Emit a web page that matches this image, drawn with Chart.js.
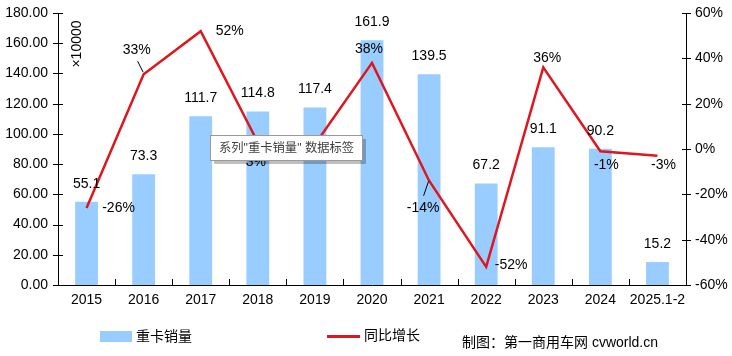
<!DOCTYPE html>
<html>
<head>
<meta charset="utf-8">
<script src="https://cdn.jsdelivr.net/npm/chart.js@4/dist/chart.umd.min.js"></script>
<style>
html,body{margin:0;padding:0;background:#fff;}
#wrap{position:relative;width:732px;height:356px;}
</style>
</head>
<body>
<div id="wrap"><canvas id="c" width="732" height="356"></canvas></div>
<script>
const categories = ['2015','2016','2017','2018','2019','2020','2021','2022','2023','2024','2025.1-2'];
const salesValues = [55.1, 73.3, 111.7, 114.8, 117.4, 161.9, 139.5, 67.2, 91.1, 90.2, 15.2];
const growthValues = [-26, 33, 52, 3, 2, 38, -14, -52, 36, -1, -3];
const leftTicks = [0, 20, 40, 60, 80, 100, 120, 140, 160, 180];
const rightTicks = [-60, -40, -20, 0, 20, 40, 60];
const seriesNames = ['重卡销量', '同比增长'];
const unitLabel = '×10000';
const footerText = '制图：第一商用车网 cvworld.cn';
const tooltipText = '系列"重卡销量" 数据标签';

const FONT = 'Arial, "Liberation Sans", "Noto Sans CJK SC", sans-serif';
const BAR_COLOR = '#99CCFF';
const LINE_COLOR = '#E0161E';

// label placement for growth labels (dx, dy from the point), with optional leader lines
const growthLabelLayout = [
  {dx: 32, dy: 0}, {dx: -7, dy: -24, leader: true}, {dx: 29, dy: 0}, {dx: -2, dy: 20},
  {dx: 30, dy: 0}, {dx: -3, dy: -14}, {dx: -6, dy: 27, leader: true}, {dx: 25, dy: -2},
  {dx: 4, dy: -9}, {dx: 6, dy: 14}, {dx: 6, dy: 9}
];

const decor = {
  id: 'decor',
  afterDatasetsDraw(chart) {
    const ctx = chart.ctx;
    const x = chart.scales.x, y = chart.scales.y, y1 = chart.scales.y1;
    const area = chart.chartArea;
    ctx.save();
    ctx.strokeStyle = '#000';
    ctx.lineWidth = 1;
    leftTicks.forEach(v => {
      const py = Math.round(y.getPixelForValue(v)) + 0.5;
      ctx.beginPath(); ctx.moveTo(area.left - 5, py); ctx.lineTo(area.left + 5, py); ctx.stroke();
    });
    rightTicks.forEach(v => {
      const py = Math.round(y1.getPixelForValue(v)) + 0.5;
      ctx.beginPath(); ctx.moveTo(area.right - 4, py); ctx.lineTo(area.right + 5, py); ctx.stroke();
    });
    for (let i = 1; i < categories.length; i++) {
      const px = Math.round((x.getPixelForValue(i - 1) + x.getPixelForValue(i)) / 2) + 0.5;
      ctx.beginPath(); ctx.moveTo(px, area.bottom); ctx.lineTo(px, area.bottom - 6); ctx.stroke();
    }
    ctx.fillStyle = '#000';
    ctx.font = '14px ' + FONT;
    ctx.textAlign = 'center';
    ctx.textBaseline = 'middle';
    const barMeta = chart.getDatasetMeta(0);
    barMeta.data.forEach((el, i) => {
      ctx.fillText(salesValues[i].toFixed(1), el.x, el.y - 18);
    });
    const lineMeta = chart.getDatasetMeta(1);
    lineMeta.data.forEach((el, i) => {
      const L = growthLabelLayout[i];
      const tx = el.x + L.dx, ty = el.y + L.dy;
      ctx.fillText(growthValues[i] + '%', tx, ty);
      if (L.leader) {
        ctx.beginPath();
        if (L.dy < 0) { ctx.moveTo(tx + 1, ty + 11); ctx.lineTo(el.x - 0.5, el.y - 2); }
        else { ctx.moveTo(tx + 0.5, ty - 12); ctx.lineTo(el.x - 0.5, el.y + 0.5); }
        ctx.stroke();
      }
    });
    ctx.restore();
  },
  afterDraw(chart) {
    const ctx = chart.ctx;
    ctx.save();
    ctx.fillStyle = '#000';
    ctx.font = '14px ' + FONT;
    ctx.translate(77, 44);
    ctx.rotate(-Math.PI / 2);
    ctx.textAlign = 'center';
    ctx.textBaseline = 'middle';
    ctx.fillText(unitLabel, 0, 0);
    ctx.restore();

    ctx.save();
    ctx.fillStyle = BAR_COLOR;
    ctx.fillRect(100, 331, 32, 11);
    ctx.strokeStyle = LINE_COLOR;
    ctx.lineWidth = 3;
    ctx.beginPath(); ctx.moveTo(327, 336.5); ctx.lineTo(360, 336.5); ctx.stroke();
    ctx.fillStyle = '#000';
    ctx.font = '14px ' + FONT;
    ctx.textAlign = 'left';
    ctx.textBaseline = 'middle';
    ctx.fillText(seriesNames[0], 136, 337);
    ctx.fillText(seriesNames[1], 364, 336);
    ctx.fillText(footerText, 462, 343);

    ctx.fillStyle = 'rgba(0,0,0,0.25)';
    ctx.fillRect(214, 139, 152, 25);
    ctx.fillStyle = '#fff';
    ctx.fillRect(210.5, 135.5, 152, 25);
    ctx.strokeStyle = '#9a9a9a';
    ctx.lineWidth = 1;
    ctx.strokeRect(210.5, 135.5, 152, 25);
    ctx.fillStyle = '#404040';
    ctx.font = '13px ' + FONT;
    let w = ctx.measureText(tooltipText).width;
    if (w > 136) { const size = Math.floor(13 * 136 / w * 10) / 10; ctx.font = size + 'px ' + FONT; }
    ctx.fillText(tooltipText, 219, 149);
    ctx.restore();
  }
};

new Chart(document.getElementById('c'), {
  data: {
    labels: categories,
    datasets: [
      {
        type: 'bar', label: seriesNames[0], data: salesValues, yAxisID: 'y',
        backgroundColor: BAR_COLOR, borderWidth: 0,
        barPercentage: 0.4, categoryPercentage: 1.0, order: 2
      },
      {
        type: 'line', label: seriesNames[1], data: growthValues, yAxisID: 'y1',
        borderColor: LINE_COLOR, borderWidth: 2.5, pointRadius: 0, tension: 0,
        fill: false, order: 1
      }
    ]
  },
  options: {
    responsive: false,
    animation: false,
    events: [],
    layout: { padding: { top: 13, left: 0, right: 0, bottom: 0 } },
    plugins: { legend: { display: false }, tooltip: { enabled: false } },
    scales: {
      x: {
        type: 'category', offset: true,
        grid: { display: false, drawTicks: false },
        border: { display: true, color: '#000', width: 1 },
        ticks: { color: '#000', font: { size: 14, family: FONT }, padding: 7, maxRotation: 0, autoSkip: false },
        afterFit: s => { s.height = 71; s.paddingLeft = 0; s.paddingRight = 0; }
      },
      y: {
        type: 'linear', position: 'left', min: 0, max: 180,
        grid: { display: false, drawTicks: false },
        border: { display: true, color: '#000', width: 1 },
        afterBuildTicks: s => { s.ticks = leftTicks.map(v => ({ value: v })); },
        ticks: { color: '#000', font: { size: 14, family: FONT }, padding: 10, callback: v => Number(v).toFixed(2) },
        afterFit: s => { s.width = 58; s.paddingTop = 0; s.paddingBottom = 0; }
      },
      y1: {
        type: 'linear', position: 'right', min: -60, max: 60,
        grid: { display: false, drawTicks: false },
        border: { display: true, color: '#000', width: 1 },
        afterBuildTicks: s => { s.ticks = rightTicks.map(v => ({ value: v })); },
        ticks: { color: '#000', font: { size: 14, family: FONT }, padding: 9, callback: v => v + '%' },
        afterFit: s => { s.width = 46; s.paddingTop = 0; s.paddingBottom = 0; }
      }
    }
  },
  plugins: [decor]
});
</script>
</body>
</html>
